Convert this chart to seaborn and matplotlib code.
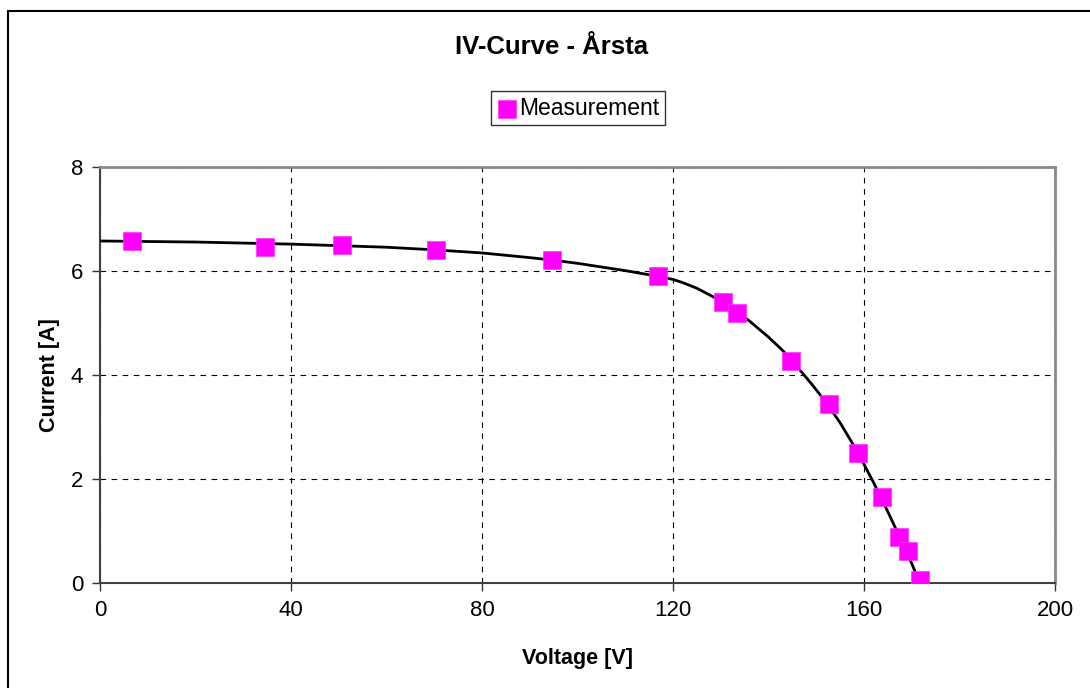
import numpy as np
import pandas as pd
import matplotlib
matplotlib.use("Agg")
import matplotlib.pyplot as plt
import seaborn as sns
from matplotlib.lines import Line2D

voltage = [6.7, 34.6, 50.6, 70.3, 94.6, 116.9, 130.5, 133.3, 144.8, 152.6,
           158.7, 163.7, 167.3, 169.1, 171.7]
current = [6.58, 6.46, 6.50, 6.40, 6.21, 5.90, 5.40, 5.19, 4.27, 3.44,
           2.50, 1.65, 0.88, 0.62, 0.06]

# Fitted curve
curve_v = [0, 10, 20, 30, 40, 50, 60, 70, 80, 90, 95, 100, 105, 110, 115,
           118, 120, 122, 125, 130, 133, 136, 140, 143, 146, 149, 152, 155,
           158, 160, 162, 164, 166, 168, 170, 171.5]
curve_i = [6.58, 6.57, 6.56, 6.54, 6.52, 6.49, 6.46, 6.41, 6.35, 6.26, 6.21,
           6.15, 6.08, 6.01, 5.93, 5.88, 5.84, 5.78, 5.67, 5.43, 5.25, 5.04,
           4.73, 4.47, 4.16, 3.83, 3.48, 3.08, 2.62, 2.28, 1.93, 1.56, 1.17,
           0.77, 0.37, 0.04]

df = pd.DataFrame({"Voltage": voltage, "Current": current})
fit = pd.DataFrame({"Voltage": curve_v, "Current": curve_i})

sns.set_style("white")
plt.rcParams["font.family"] = ["Liberation Sans", "DejaVu Sans"]
plt.rcParams["text.color"] = "black"
plt.rcParams["axes.labelcolor"] = "black"
plt.rcParams["xtick.color"] = "black"
plt.rcParams["ytick.color"] = "black"

fig = plt.figure(figsize=(10.9, 6.88), dpi=100)
ax = fig.add_axes([0.0917, 0.1526, 0.8763, 0.6044])

sns.lineplot(data=fit, x="Voltage", y="Current", ax=ax, color="black",
             linewidth=2, sort=False, zorder=3)
sns.scatterplot(data=df, x="Voltage", y="Current", ax=ax, marker="s",
                s=170, color="#FF00FF", edgecolor="#FF33FF", linewidth=0.5,
                zorder=4, label="Measurement")

ax.set_xlim(0, 200)
ax.set_ylim(0, 8)
ax.set_xticks([0, 40, 80, 120, 160, 200])
ax.set_yticks([0, 2, 4, 6, 8])
ax.grid(True, color="black", linestyle=(0, (5, 5)), linewidth=0.8)
ax.tick_params(axis="both", labelsize=16, direction="out", length=6,
               width=1, color="#333333", labelcolor="black",
               left=True, bottom=True, pad=6)

for side in ["left", "bottom"]:
    ax.spines[side].set_color("#404040")
    ax.spines[side].set_linewidth(1.5)
for side in ["top", "right"]:
    ax.spines[side].set_color("#888888")
    ax.spines[side].set_linewidth(2)

ax.set_xlabel("Voltage [V]", fontsize=15.5, fontweight="bold", labelpad=20,
              color="black")
ax.set_ylabel("Current [A]", fontsize=15.5, fontweight="bold", labelpad=8,
              color="black")

fig.text(0.506, 0.932, "IV-Curve - Årsta", ha="center", va="center",
         fontsize=18.5, fontweight="bold", color="black")

leg = ax.legend(loc="center", bbox_to_anchor=(0.5005, 1.142), fontsize=16.5,
                frameon=True, fancybox=False, handletextpad=0.1,
                borderpad=0.25, handlelength=0.9, markerscale=1.0,
                borderaxespad=0)
leg.get_frame().set_edgecolor("black")
leg.get_frame().set_linewidth(1)
for t in leg.get_texts():
    t.set_color("black")

# outer chart border (left and top visible)
fig.add_artist(Line2D([8 / 1090, 8 / 1090], [0, 1 - 11 / 688],
                      color="black", linewidth=1.5))
fig.add_artist(Line2D([8 / 1090, 1], [1 - 11 / 688, 1 - 11 / 688],
                      color="black", linewidth=1.5))

fig.savefig("out.png", dpi=100)
